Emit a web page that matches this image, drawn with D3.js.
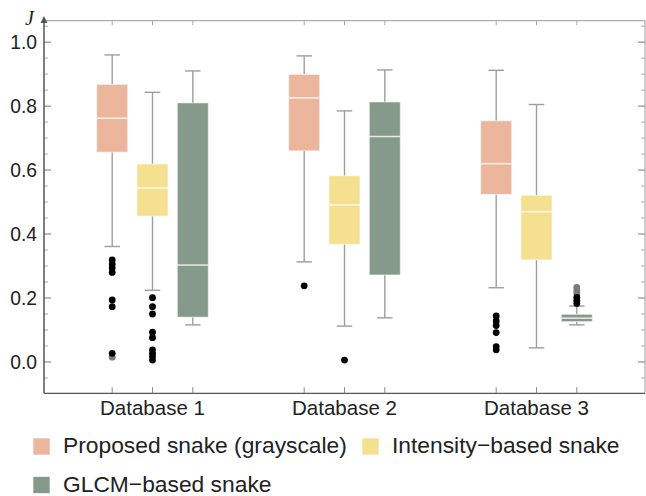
<!DOCTYPE html>
<html><head><meta charset="utf-8">
<script src="https://cdn.jsdelivr.net/npm/d3@7"></script>
<style>body{margin:0;background:#fff;}svg{display:block;}</style>
</head><body>
<svg id="chart" width="646" height="496"></svg>
<script>
// ---------- data ----------
const categories = ["Database 1", "Database 2", "Database 3"];
const seriesNames = ["Proposed snake (grayscale)", "Intensity\u2212based snake", "GLCM\u2212based snake"];
const seriesColors = ["#ebb69c", "#f4e08f", "#869a8b"];
// [lower whisker, Q1, median, Q3, upper whisker] per database
const proposedStats  = [[0.361, 0.656, 0.762, 0.868, 0.960], [0.313, 0.660, 0.826, 0.899, 0.957], [0.232, 0.524, 0.620, 0.754, 0.912]];
const intensityStats = [[0.224, 0.456, 0.544, 0.619, 0.843], [0.112, 0.368, 0.491, 0.582, 0.785], [0.044, 0.319, 0.470, 0.521, 0.805]];
const glcmStats      = [[0.116, 0.140, 0.303, 0.810, 0.910], [0.138, 0.272, 0.705, 0.813, 0.913], [0.116, 0.126, 0.137, 0.149, 0.175]];
// near outliers (black)
const proposedOutliers  = [[0.319, 0.306, 0.294, 0.280, 0.194, 0.173, 0.027], [0.238], [0.144, 0.128, 0.114, 0.092, 0.048, 0.038]];
const intensityOutliers = [[0.201, 0.173, 0.150, 0.093, 0.076, 0.038, 0.027, 0.017, 0.006], [0.006], []];
const glcmOutliers      = [[], [], [0.202, 0.192, 0.183]];
// far outliers (gray)
const proposedFar  = [[0.015], [], []];
const intensityFar = [[], [], []];
const glcmFar      = [[], [], [0.233, 0.223, 0.213]];
const yTicks = [0.0, 0.2, 0.4, 0.6, 0.8, 1.0];
const yMinorTicks = [-0.05, 0.05, 0.1, 0.15, 0.25, 0.3, 0.35, 0.45, 0.5, 0.55, 0.65, 0.7, 0.75, 0.85, 0.9, 0.95, 1.05];
const yLabel = "J";

const allStats = [proposedStats, intensityStats, glcmStats];
const allOutliers = [proposedOutliers, intensityOutliers, glcmOutliers];
const allFar = [proposedFar, intensityFar, glcmFar];

// ---------- layout ----------
const frame = {left: 44, right: 645, top: 20.7, bottom: 393.3};
const svg = d3.select("#chart");
const y = d3.scaleLinear().domain([-0.098, 1.067]).range([frame.bottom, frame.top]);
const xGroup = d3.scaleBand().domain(categories).range([frame.left + 12.5, frame.right - 12.5]);
const xSeries = d3.scalePoint().domain(seriesNames).range([-40.3, 40.3]);
const boxW = 31, capW = 15.5;
const cx = (ci, si) => xGroup(categories[ci]) + xGroup.bandwidth() / 2 + xSeries(seriesNames[si]);

// frame: top & right light
svg.append("line").attr("x1", frame.left).attr("x2", frame.right).attr("y1", frame.top).attr("y2", frame.top).attr("stroke", "#9a9a9a").attr("stroke-width", 1);
svg.append("line").attr("x1", frame.right).attr("x2", frame.right).attr("y1", frame.top).attr("y2", frame.bottom).attr("stroke", "#9a9a9a").attr("stroke-width", 1);
// bottom axis
svg.append("line").attr("x1", frame.left).attr("x2", frame.right).attr("y1", frame.bottom).attr("y2", frame.bottom).attr("stroke", "#555").attr("stroke-width", 1.3);

// ticks: left (inward) and right (inward)
const tickG = svg.append("g").attr("stroke", "#777").attr("stroke-width", 1);
yTicks.forEach(v => {
  tickG.append("line").attr("x1", frame.left).attr("x2", frame.left + 7).attr("y1", y(v)).attr("y2", y(v));
  tickG.append("line").attr("x1", frame.right).attr("x2", frame.right - 7).attr("y1", y(v)).attr("y2", y(v));
});
yMinorTicks.forEach(v => {
  tickG.append("line").attr("x1", frame.left).attr("x2", frame.left + 4).attr("y1", y(v)).attr("y2", y(v)).attr("stroke", "#aaa");
  tickG.append("line").attr("x1", frame.right).attr("x2", frame.right - 4).attr("y1", y(v)).attr("y2", y(v)).attr("stroke", "#aaa");
});
// x ticks at each box, bottom and top
categories.forEach((c, ci) => seriesNames.forEach((s, si) => {
  const xx = cx(ci, si);
  tickG.append("line").attr("x1", xx).attr("x2", xx).attr("y1", frame.bottom).attr("y2", frame.bottom - 6).attr("stroke", "#888");
  tickG.append("line").attr("x1", xx).attr("x2", xx).attr("y1", frame.top).attr("y2", frame.top + 4.5).attr("stroke", "#aaa");
}));

// left axis with arrow
svg.append("line").attr("x1", frame.left).attr("x2", frame.left).attr("y1", frame.bottom).attr("y2", 20).attr("stroke", "#555").attr("stroke-width", 1.5);
svg.append("path").attr("d", `M${frame.left},${16} L${frame.left - 3.5},${23} L${frame.left + 3.5},${23} Z`).attr("fill", "#555");
svg.append("text").attr("x", 34).attr("y", 24.5).attr("text-anchor", "end")
  .attr("font-family", "Liberation Serif, serif").attr("font-style", "italic").attr("font-size", 20).attr("fill", "#222").text(yLabel);

// y tick labels
svg.append("g").selectAll("text").data(yTicks).join("text")
  .attr("x", 37).attr("y", d => y(d)).attr("dy", "0.36em").attr("text-anchor", "end")
  .attr("font-family", "Liberation Sans, Arial, sans-serif").attr("font-size", 19.3).attr("fill", "#222")
  .text(d => d3.format(".1f")(d));

// category labels
svg.append("g").selectAll("text").data(categories).join("text")
  .attr("x", d => xGroup(d) + xGroup.bandwidth() / 2).attr("y", 415).attr("text-anchor", "middle")
  .attr("font-family", "Liberation Sans, Arial, sans-serif").attr("font-size", 20.5).attr("fill", "#222")
  .text(d => d);

// boxes
const g = svg.append("g");
allStats.forEach((stats, si) => {
  stats.forEach((st, ci) => {
    const [lo, q1, med, q3, hi] = st;
    const xx = cx(ci, si);
    const wc = "#9e9e9e";
    g.append("line").attr("x1", xx).attr("x2", xx).attr("y1", y(hi)).attr("y2", y(q3)).attr("stroke", wc).attr("stroke-width", 1.4);
    g.append("line").attr("x1", xx).attr("x2", xx).attr("y1", y(q1)).attr("y2", y(lo)).attr("stroke", wc).attr("stroke-width", 1.4);
    g.append("line").attr("x1", xx - capW / 2).attr("x2", xx + capW / 2).attr("y1", y(hi)).attr("y2", y(hi)).attr("stroke", wc).attr("stroke-width", 1.4);
    g.append("line").attr("x1", xx - capW / 2).attr("x2", xx + capW / 2).attr("y1", y(lo)).attr("y2", y(lo)).attr("stroke", wc).attr("stroke-width", 1.4);
    g.append("rect").attr("x", xx - boxW / 2).attr("width", boxW).attr("y", y(q3)).attr("height", y(q1) - y(q3))
      .attr("fill", seriesColors[si]).attr("stroke", "rgba(255,255,255,0.55)").attr("stroke-width", 1);
    g.append("line").attr("x1", xx - boxW / 2).attr("x2", xx + boxW / 2).attr("y1", y(med)).attr("y2", y(med))
      .attr("stroke", "rgba(255,255,255,0.8)").attr("stroke-width", 1.5);
    allFar[si][ci].forEach(v => g.append("circle").attr("cx", xx).attr("cy", y(v)).attr("r", 3.4).attr("fill", "#7a7a7a"));
    allOutliers[si][ci].forEach(v => g.append("circle").attr("cx", xx).attr("cy", y(v)).attr("r", 3.4).attr("fill", "#000"));
  });
});

// legend
const legendItems = [
  {si: 0, x: 33, y: 438},
  {si: 1, x: 362, y: 438},
  {si: 2, x: 33, y: 476.5}
];
const lg = svg.append("g");
legendItems.forEach(it => {
  lg.append("rect").attr("x", it.x).attr("y", it.y).attr("width", 17).attr("height", 17)
    .attr("fill", seriesColors[it.si]).attr("stroke", "rgba(255,255,255,0.6)");
  lg.append("text").attr("x", it.x + 30).attr("y", it.y + 15)
    .attr("font-family", "Liberation Sans, Arial, sans-serif").attr("font-size", 22.8).attr("fill", "#222")
    .text(seriesNames[it.si]);
});
</script>
</body></html>
